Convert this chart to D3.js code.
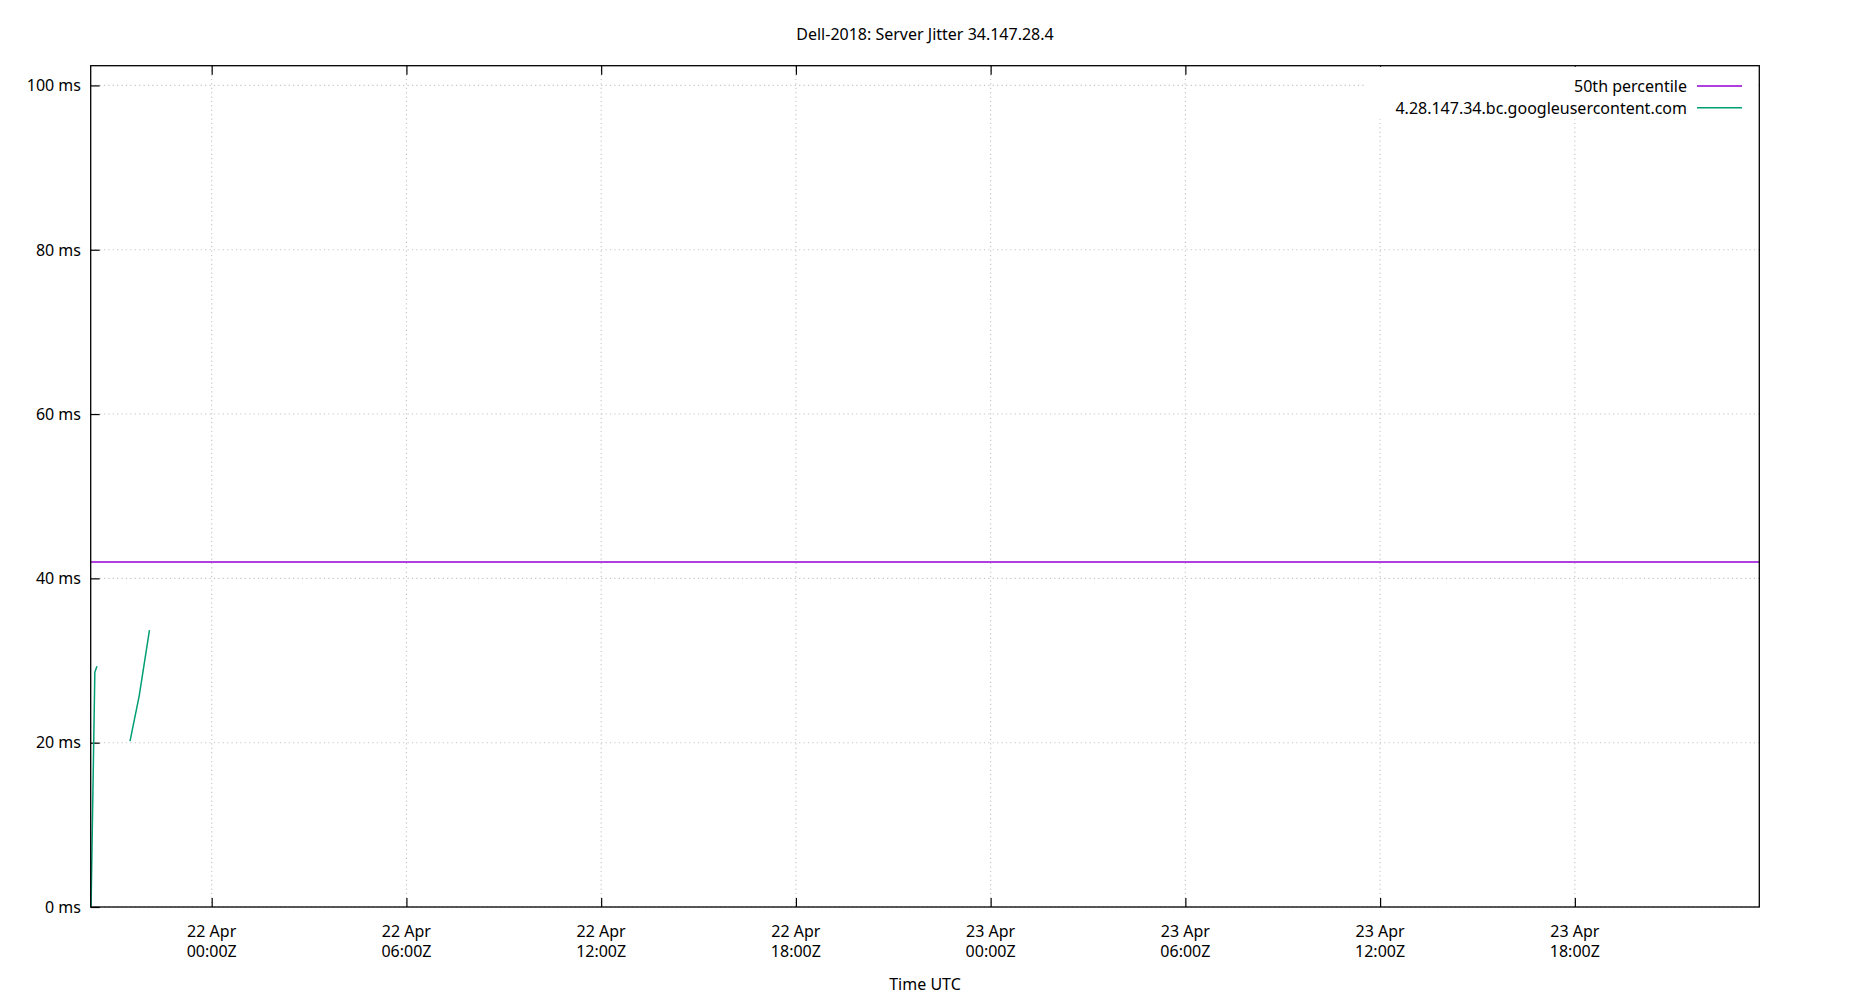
<!DOCTYPE html>
<html><head><meta charset="utf-8">
<script src="https://cdn.jsdelivr.net/npm/d3@7"></script>
<style>
body{margin:0;background:#fff;}
svg{display:block;font-family:"Noto Sans",sans-serif;}
</style></head>
<body><svg id="c" width="1850" height="1000"></svg>
<script>
const chartTitle = "Dell-2018: Server Jitter 34.147.28.4";
const xAxisTitle = "Time UTC";
const seriesNames = ["50th percentile", "4.28.147.34.bc.googleusercontent.com"];
const seriesColors = ["#9400d3", "#009e73"];
const xDomain = ["2024-04-21T20:16:20Z", "2024-04-23T23:41:00Z"];
const yDomain = [0, 102.4];
const yTicks = [0, 20, 40, 60, 80, 100];
const xTicks = ["2024-04-22T00:00Z","2024-04-22T06:00Z","2024-04-22T12:00Z","2024-04-22T18:00Z",
                "2024-04-23T00:00Z","2024-04-23T06:00Z","2024-04-23T12:00Z","2024-04-23T18:00Z"];
const percentile50 = 42;
// jitter samples (null = gap)
const jitterTimes = ["2024-04-21T20:17Z","2024-04-21T20:24Z","2024-04-21T20:28Z", null,
                     "2024-04-21T21:29Z","2024-04-21T21:46Z","2024-04-21T22:05Z"];
const jitterValues = [0, 28.6, 29.3, null, 20.2, 25.7, 33.7];

const svg = d3.select("#c");
const L = 90.7, T = 65.7, R = 1759.3, B = 907;
const x = d3.scaleUtc().domain(xDomain.map(d => new Date(d))).range([L, R]);
const y = d3.scaleLinear().domain(yDomain).range([B, T]);
const xt = xTicks.map(d => new Date(d));
const fDay = d3.utcFormat("%d %b"), fHour = d3.utcFormat("%H:%MZ");

// grid
const grid = svg.append("g").attr("stroke", "#c4c4c4").attr("stroke-width", 1.1).attr("stroke-dasharray", "1.2,3.2");
grid.selectAll("line.v").data(xt).join("line").attr("x1", d => x(d)).attr("x2", d => x(d)).attr("y1", T).attr("y2", B);
grid.selectAll("line.h").data(yTicks).join("line").attr("x1", L).attr("x2", R).attr("y1", d => y(d)).attr("y2", d => y(d));

// axes (ticks inward; x mirrored on top)
const gx = svg.append("g").attr("transform", `translate(0,${B})`)
  .call(d3.axisTop(x).tickValues(xt).tickSize(9).tickFormat(""));
const gxt = svg.append("g").attr("transform", `translate(0,${T})`)
  .call(d3.axisBottom(x).tickValues(xt).tickSize(9).tickFormat(""));
const gy = svg.append("g").attr("transform", `translate(${L},0)`)
  .call(d3.axisRight(y).tickValues(yTicks).tickSize(9).tickFormat(""));
[gx, gxt, gy].forEach(g => { g.select(".domain").remove(); g.selectAll("line").attr("stroke", "#000").attr("stroke-width", 1.2); });

// tick labels
const xl = svg.append("g").attr("font-size", 16).attr("text-anchor", "middle").attr("fill", "#000");
xl.selectAll("text.d").data(xt).join("text").attr("x", d => x(d)).attr("y", 936.5).text(d => fDay(d));
xl.selectAll("text.h").data(xt).join("text").attr("x", d => x(d)).attr("y", 957).text(d => fHour(d));
svg.append("g").attr("font-size", 16).attr("text-anchor", "end")
  .selectAll("text").data(yTicks).join("text").attr("x", 81).attr("y", d => y(d) + 5.8).text(d => d + " ms");

// titles
svg.append("text").attr("x", (L + R) / 2).attr("y", 39.5).attr("text-anchor", "middle").attr("font-size", 16).text(chartTitle);
svg.append("text").attr("x", (L + R) / 2).attr("y", 990).attr("text-anchor", "middle").attr("font-size", 16).text(xAxisTitle);

// clip
svg.append("clipPath").attr("id", "pc").append("rect").attr("x", L).attr("y", T).attr("width", R - L).attr("height", B - T);
const plot = svg.append("g").attr("clip-path", "url(#pc)");

// 50th percentile line
const pData = x.domain().map(t => ({t, v: percentile50}));
const line = d3.line().defined(d => d.v != null && d.t != null).x(d => x(d.t)).y(d => y(d.v));
plot.append("path").datum(pData).attr("d", line).attr("fill", "none").attr("stroke", seriesColors[0]).attr("stroke-width", 1.5);

// jitter series
const jData = jitterTimes.map((t, i) => ({t: t ? new Date(t) : null, v: jitterValues[i]}));
plot.append("path").datum(jData).attr("d", line).attr("fill", "none").attr("stroke", seriesColors[1]).attr("stroke-width", 1.5);

// legend (opaque)
svg.append("rect").attr("x", 1365).attr("y", T + 1).attr("width", R - 1365 - 1).attr("height", 52).attr("fill", "#fff");
const lg = svg.append("g");
seriesNames.forEach((n, i) => {
  const yy = 86 + i * 21.7;
  lg.append("text").attr("x", 1687).attr("y", yy + 5.8).attr("text-anchor", "end").attr("font-size", 16).text(n);
  lg.append("line").attr("x1", 1697).attr("x2", 1742).attr("y1", yy).attr("y2", yy).attr("stroke", seriesColors[i]).attr("stroke-width", 1.5);
});

// border
svg.append("rect").attr("x", L).attr("y", T).attr("width", R - L).attr("height", B - T).attr("fill", "none").attr("stroke", "#000").attr("stroke-width", 1.3);
</script></body></html>
